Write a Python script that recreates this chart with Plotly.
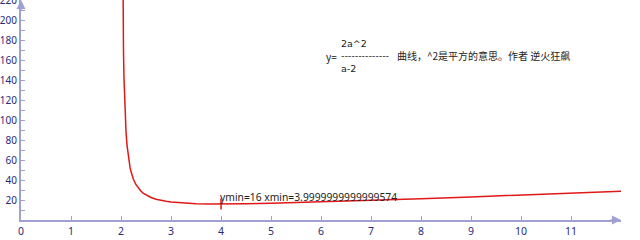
import plotly.graph_objects as go

# curve points (a, y)
curve_x = [2.02, 2.025, 2.03, 2.04, 2.05, 2.06, 2.07, 2.08, 2.09, 2.1, 2.12, 2.14, 2.16, 2.18, 2.2, 2.25,
           2.3, 2.35, 2.4, 2.45, 2.5, 2.6, 2.7, 2.8, 2.9, 3.0, 3.25, 3.5, 3.75, 4.0, 4.5, 5.0,
           6.0, 7.0, 8.0, 9.0, 10.0, 11.0, 12.0]
curve_y = [408, 328, 275, 208, 168, 141.5, 122.4, 108.2, 97.1, 88.2, 74.9, 65.4, 58.3, 52.8, 48.4, 40.5,
           35.3, 31.6, 28.8, 26.7, 25, 22.5, 20.8, 19.6, 18.7, 18, 16.9, 16.3, 16.07, 16, 16.2, 16.7,
           18, 19.6, 21.3, 23.1, 25, 26.9, 28.8]

min_x = 4.0
min_y = 16
min_label = "ymin=16 xmin=3.9999999999999574"

x_ticks = list(range(0, 12))
y_ticks = list(range(20, 221, 20))
# labels are left-aligned in the reference: pad two-digit ones with a figure space
y_tick_labels = ["20", "40", "60", "80", "100", "120", "140", "160", "180", "200", "220"]
y_minor = list(range(10, 220, 20))

axis_col = "#a0a0d2"
label_col = "#2a2a7a"

fig = go.Figure()
fig.add_trace(go.Scatter(x=curve_x, y=curve_y, mode="lines", line=dict(color="#e01818", width=1.5),
                         hoverinfo="skip"))
fig.add_trace(go.Scatter(x=[min_x], y=[min_y], mode="markers",
                         marker=dict(symbol="line-ns", size=8, line=dict(color="#e01818", width=1.5)),
                         hoverinfo="skip"))

ann = []
ann.append(dict(x=min_x, y=min_y, text=min_label, showarrow=False, xanchor="left", yanchor="bottom",
                xshift=-3, yshift=-2, font=dict(size=10.3, color="#222222", family="Noto Sans, DejaVu Sans")))
f = dict(size=10, color="#222222", family="Noto Sans CJK SC, Noto Sans")
ff = dict(size=9.5, color="#222222", family="DejaVu Sans")
ann.append(dict(x=6.06, y=164, text="y=", showarrow=False, xanchor="left", yanchor="middle", font=f))
ann.append(dict(x=6.36, y=164.5, text="2a^2<br>--------------<br>a-2", showarrow=False, xanchor="left",
                yanchor="middle", align="left", font=ff))
ann.append(dict(x=7.48, y=164.5, text="曲线，^2是平方的意思。作者 逆火狂飙", showarrow=False, xanchor="left",
                yanchor="middle", font=f))
# axis arrowheads
ann.append(dict(x=12, y=0, ax=-12, ay=0, showarrow=True, arrowhead=2, arrowsize=1.2, arrowwidth=1.5,
                arrowcolor=axis_col, text=""))
ann.append(dict(x=0, y=220, ax=0, ay=12, showarrow=True, arrowhead=2, arrowsize=1.2, arrowwidth=1.5,
                arrowcolor=axis_col, text=""))

padded = [t if len(t) >= 3 else "\u2007" * (3 - len(t)) + t for t in y_tick_labels]

fig.update_layout(
    width=640, height=240,
    margin=dict(l=21, r=19, t=0, b=20),
    paper_bgcolor="white", plot_bgcolor="white",
    showlegend=False,
    annotations=ann,
    xaxis=dict(range=[0, 12], tickmode="array", tickvals=x_ticks, showgrid=False, zeroline=False,
               automargin=False,
               showline=True, linecolor=axis_col, linewidth=2, ticks="inside", ticklen=4, tickcolor=axis_col,
               tickfont=dict(size=10.5, color=label_col, family="Noto Sans, DejaVu Sans")),
    yaxis=dict(range=[0, 220], tickmode="array", tickvals=y_ticks, ticktext=padded, showgrid=False, zeroline=False,
               automargin=False,
               showline=True, linecolor=axis_col, linewidth=2, ticks="inside", ticklen=4, tickcolor=axis_col,
               ticklabeloverflow="allow",
               minor=dict(tickvals=y_minor, ticks="inside", ticklen=4, tickcolor=axis_col, showgrid=False),
               tickfont=dict(size=10, color=label_col, family="Noto Sans, DejaVu Sans")),
)

fig.write_html("out.html")
